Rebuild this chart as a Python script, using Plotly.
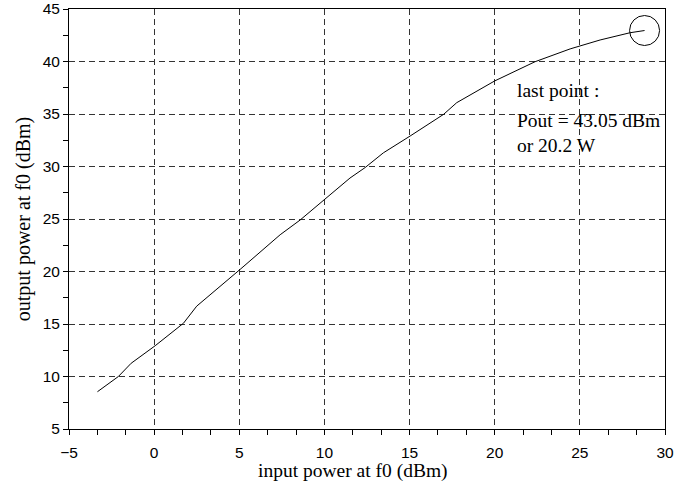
import plotly.graph_objects as go

# input power at f0 (dBm)
pin = [-3.33, -2.1, -1.35, 0.06, 1.72, 2.5, 5.05, 7.4, 8.57, 10.53, 11.5, 12.39,
       13.46, 15.03, 17.0, 17.77, 18.56, 20.0, 22.37, 24.43, 26.19, 27.95, 28.8]
# output power at f0 (dBm)
pout = [8.55, 10.0, 11.26, 12.93, 15.07, 16.7, 20.2, 23.5, 24.9, 27.6, 28.9, 29.9,
        31.3, 32.9, 34.97, 36.08, 36.8, 38.15, 39.98, 41.2, 42.05, 42.74, 42.95]

note_title = "last point :"
note_body = "Pout = 43.05 dBm<br>or 20.2 W"
note_title_y = 37.2
note_body_y = 33.15
note_x = 21.2

serif = "Liberation Serif, Times New Roman, serif"
sans = "Liberation Sans, Arial, sans-serif"

fig = go.Figure()
fig.add_trace(go.Scatter(x=pin, y=pout, mode="lines",
                         line=dict(color="black", width=1), showlegend=False))

# circle around last point
fig.add_shape(type="circle", xref="x", yref="y", xsizemode="pixel", ysizemode="pixel",
              xanchor=pin[-1], yanchor=pout[-1], x0=-15, x1=15, y0=-15, y1=15,
              line=dict(color="black", width=1))

fig.add_annotation(x=note_x, y=note_title_y, xref="x", yref="y", text=note_title,
                   showarrow=False, xanchor="left", yanchor="middle",
                   font=dict(family=serif, size=19.5, color="black"))
fig.add_annotation(x=note_x, y=note_body_y, xref="x", yref="y", text=note_body,
                   showarrow=False, xanchor="left", yanchor="middle", align="left",
                   font=dict(family=serif, size=19.5, color="black"))

fig.add_annotation(x=0.477, y=-0.068, xref="paper", yref="paper",
                   text="input power at f0 (dBm)", showarrow=False,
                   xanchor="center", yanchor="top",
                   font=dict(family=serif, size=19.5, color="black"))

axis_common = dict(
    showline=True, linecolor="black", linewidth=1, mirror=True,
    ticks="outside", ticklen=5, tickwidth=1, tickcolor="black",
    showgrid=True, gridcolor="#333", gridwidth=1, griddash="6px,4px",
    zeroline=False, automargin=False,
    tickfont=dict(family=sans, size=15.5, color="black"),
)

fig.update_xaxes(range=[-5, 30], tick0=-5, dtick=5, tickformat="d",
                 ticklabelstandoff=4,
                 minor=dict(dtick=5/3, tick0=-5, ticks="outside", ticklen=5,
                            tickcolor="black", showgrid=False),
                 **axis_common)
fig.update_yaxes(range=[5, 45], tick0=5, dtick=5,
                 minor=dict(dtick=2.5, tick0=5, ticks="outside", ticklen=5,
                            tickcolor="black", showgrid=False),
                 title=dict(text="output power at f0 (dBm)", standoff=6,
                            font=dict(family=serif, size=20, color="black")),
                 **axis_common)

fig.update_layout(width=691, height=493, margin=dict(l=69, r=26, t=9, b=64),
                  plot_bgcolor="white", paper_bgcolor="white")
fig.write_html("out.html")
